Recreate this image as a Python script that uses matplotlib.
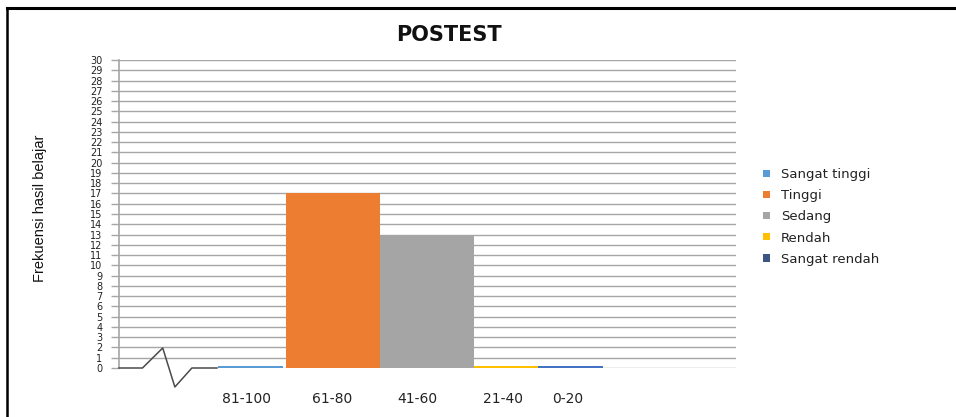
import matplotlib
matplotlib.use("Agg")
import matplotlib.pyplot as plt
from matplotlib.lines import Line2D
from matplotlib.patches import Patch
from matplotlib import font_manager

# Score ranges and the number of students falling in each category
categories = ["81-100", "61-80", "41-60", "21-40", "0-20"]
series_names = ["Sangat tinggi", "Tinggi", "Sedang", "Rendah", "Sangat rendah"]
frequencies = [0.2, 17, 13, 0.2, 0.2]
y_ticks = list(range(0, 31))

# Layout / style (not data)
bar_lefts = [0.0, 0.84, 2.0, 3.17, 3.95]
bar_widths = [0.80, 1.16, 1.17, 0.78, 0.81]
label_pos = [0.35, 1.41, 2.47, 3.52, 4.32]
bar_colors = ["#5B9BD5", "#ED7D31", "#A5A5A5", "#FFC000", "#4472C4"]
legend_colors = ["#5B9BD5", "#ED7D31", "#A5A5A5", "#FFC000", "#3B5683"]
grid_color = "#a6a6a6"

names = {f.name for f in font_manager.fontManager.ttflist}
narrow = "Liberation Sans Narrow" if "Liberation Sans Narrow" in names else "Liberation Sans"

fig = plt.figure(figsize=(9.56, 4.17), dpi=100)
ax = fig.add_axes([119 / 956, 1 - 368 / 417, (736 - 119) / 956, (368 - 60) / 417])

ax.set_xlim(-1.22, 6.40)
ax.set_ylim(0, 30)

# horizontal gridlines 1..30
for v in y_ticks[1:]:
    ax.axhline(v, color=grid_color, lw=1.0, zorder=0)
# zero line to the right of the axis break
ax.plot([-0.01, 6.40], [0, 0], color=grid_color, lw=1.0, zorder=0)
# axis break zigzag at the start of the category axis
zx = [-1.22, -0.93, -0.68, -0.53, -0.32, -0.01]
zy = [0, 0, 1.95, -1.85, 0, 0]
ax.plot(zx, zy, color="#4a4a4a", lw=1.1, clip_on=False, zorder=3)

for left, w, h, c in zip(bar_lefts, bar_widths, frequencies, bar_colors):
    ax.bar(left, h, width=w, align="edge", color=c, zorder=2, linewidth=0)

for s in ["top", "right", "bottom"]:
    ax.spines[s].set_visible(False)
ax.spines["left"].set_color(grid_color)
ax.spines["left"].set_linewidth(1.2)

ax.set_yticks(y_ticks)
ax.set_yticklabels([str(v) for v in y_ticks], fontsize=7, color="#222222",
                   family="DejaVu Sans")
ax.tick_params(axis="y", length=6, width=1.0, color=grid_color, pad=6)

ax.set_xticks(label_pos)
ax.set_xticklabels(categories, fontsize=10, color="#222222", family="DejaVu Sans")
ax.tick_params(axis="x", length=0, pad=17)

ax.set_ylabel("Frekuensi hasil belajar", family=[narrow, "DejaVu Sans"],
              fontsize=10.5, color="#111111")
ax.yaxis.set_label_coords(47 / 956, 0.5, transform=fig.transFigure)

fig.text(449 / 956, 1 - 35 / 417, "POSTEST", ha="center", va="center",
         fontsize=15, fontweight="bold", family="DejaVu Sans", color="#111111")

handles = [Patch(facecolor=c, edgecolor="none") for c in legend_colors]
fig.legend(handles, series_names, loc="upper left",
           bbox_to_anchor=(763 / 956, 1 - 168 / 417), frameon=False,
           prop={"family": "DejaVu Sans", "size": 9.5}, labelcolor="#222222",
           handlelength=0.55, handleheight=0.45, handletextpad=0.8,
           labelspacing=0.62, borderpad=0, borderaxespad=0)

# outer frame (left and top edges)
fig.add_artist(Line2D([7 / 956, 7 / 956], [0, 1 - 8 / 417], color="black",
                      lw=1.8, transform=fig.transFigure))
fig.add_artist(Line2D([7 / 956, 1], [1 - 8 / 417, 1 - 8 / 417], color="black",
                      lw=2.2, transform=fig.transFigure))

fig.savefig("out.png", dpi=100)
